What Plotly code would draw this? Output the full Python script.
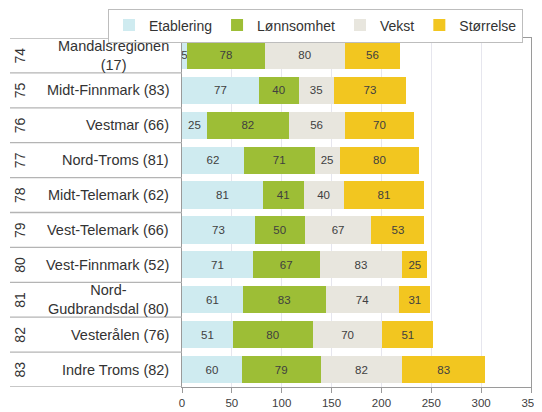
import plotly.graph_objects as go

ranks = ["74", "75", "76", "77", "78", "79", "80", "81", "82", "83"]
regions = ["Mandalsregionen<br>(17)", "Midt-Finnmark (83)", "Vestmar (66)", "Nord-Troms (81)",
           "Midt-Telemark (62)", "Vest-Telemark (66)", "Vest-Finnmark (52)",
           "Nord-<br>Gudbrandsdal (80)", "Vesterålen (76)", "Indre Troms (82)"]
etablering = [5, 77, 25, 62, 81, 73, 71, 61, 51, 60]
lonnsomhet = [78, 40, 82, 71, 41, 50, 67, 83, 80, 79]
vekst = [80, 35, 56, 25, 40, 67, 83, 74, 70, 82]
storrelse = [56, 73, 70, 80, 81, 53, 25, 31, 51, 83]
series_names = ["Etablering", "Lønnsomhet", "Vekst", "Størrelse"]
colors = ["#CFEBF0", "#9DBE36", "#E8E6DE", "#F2C620"]
x_ticks = [0, 50, 100, 150, 200, 250, 300, 350]

FONT = "Liberation Sans, Arial, sans-serif"
# the page has an 8px body margin, so the figure is 8px smaller than the window
W, H = 534, 404
ML, MR, MT, MB = 174, 11, 30, 25
PW = W - ML - MR
PH = H - MT - MB

fig = go.Figure()
for name, vals, col in zip(series_names, [etablering, lonnsomhet, vekst, storrelse], colors):
    fig.add_trace(go.Bar(
        y=regions, x=vals, name=name, orientation="h",
        marker=dict(color=col, line=dict(width=0)),
        text=vals, textposition="inside", insidetextanchor="middle",
        textangle=0, constraintext="none",
        textfont=dict(size=11.5, color="#404040", family=FONT),
        cliponaxis=False,
    ))

annotations = []
for i, (r, reg) in enumerate(zip(ranks, regions)):
    annotations.append(dict(
        x=-11 / PW, xref="paper", y=reg, yref="y", text=reg,
        xanchor="right", align="center", showarrow=False,
        font=dict(size=14.5, color="#333333", family=FONT),
    ))
    annotations.append(dict(
        x=(12 - ML) / PW, xref="paper", y=reg, yref="y", text=r,
        textangle=-90, xanchor="center", yanchor="middle", showarrow=False,
        font=dict(size=14, color="#333333", family=FONT),
    ))

shapes = []
for i in range(len(regions) + 1):
    shapes.append(dict(
        type="line", xref="paper", yref="y",
        x0=(2 - ML) / PW, x1=0, y0=i - 0.5, y1=i - 0.5,
        line=dict(color="#B4B4B4", width=1.3),
    ))

fig.update_layout(
    width=W, height=H,
    margin=dict(l=ML, r=MR, t=MT, b=MB, pad=0, autoexpand=False),
    barmode="stack", bargap=0.22,
    paper_bgcolor="white", plot_bgcolor="white",
    font=dict(family=FONT, color="#333333"),
    showlegend=True,
    legend=dict(
        orientation="h", xref="paper", yref="paper",
        x=(100 - ML) / PW, xanchor="left",
        y=1 + (MT - 0.5) / PH, yanchor="top",
        bordercolor="#BDBDBD", borderwidth=1,
        font=dict(size=14, color="#333333", family=FONT),
        traceorder="normal", itemwidth=30,
    ),
    xaxis=dict(
        range=[0, 350], tickvals=x_ticks, showgrid=True, gridcolor="#E6E6EE",
        showline=True, linecolor="#9A9A9A", linewidth=1, mirror=True,
        ticks="outside", ticklen=5, tickcolor="#9A9A9A",
        tickfont=dict(size=11.5, color="#404040", family=FONT),
        zeroline=False, fixedrange=True,
    ),
    yaxis=dict(
        categoryorder="array", categoryarray=regions,
        range=[len(regions) - 0.5, -0.5], showticklabels=False,
        showgrid=False, showline=True, linecolor="#9A9A9A", linewidth=1, mirror=True,
        ticks="", zeroline=False,
    ),
    annotations=annotations, shapes=shapes,
)

fig.write_html("out.html")
